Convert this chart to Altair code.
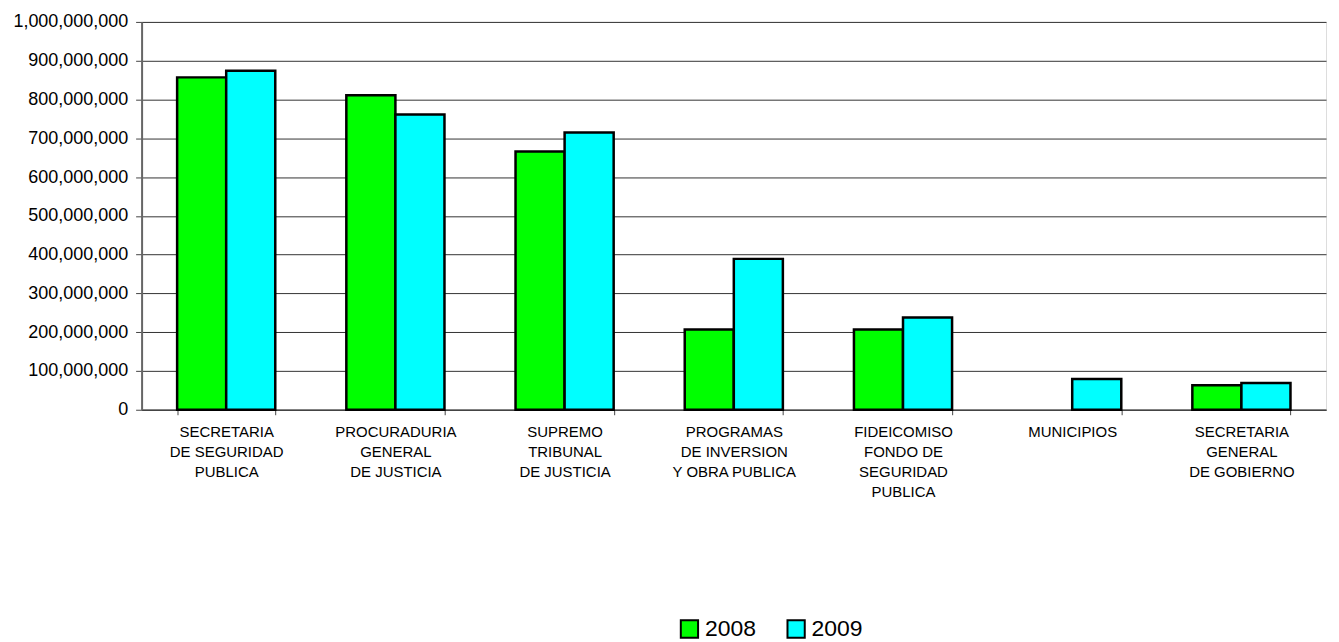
import altair as alt
import pandas as pd

categories = [
    "SECRETARIA|DE SEGURIDAD|PUBLICA",
    "PROCURADURIA|GENERAL|DE JUSTICIA",
    "SUPREMO|TRIBUNAL|DE JUSTICIA",
    "PROGRAMAS|DE INVERSION|Y OBRA PUBLICA",
    "FIDEICOMISO|FONDO DE|SEGURIDAD|PUBLICA",
    "MUNICIPIOS",
    "SECRETARIA|GENERAL|DE GOBIERNO",
]
years = ["2008", "2009"]
values_2008 = [857e6, 811e6, 666e6, 207e6, 207e6, 0, 63e6]
values_2009 = [874e6, 761e6, 715e6, 389e6, 238e6, 79e6, 69e6]

rows = []
for c, v8, v9 in zip(categories, values_2008, values_2009):
    rows.append({"cat": c, "year": "2008", "value": v8})
    rows.append({"cat": c, "year": "2009", "value": v9})
df = pd.DataFrame(rows)

chart = alt.Chart(df).transform_filter(
    "datum.value > 0"
).mark_bar(stroke="black", strokeWidth=2.5).encode(
    x=alt.X("cat:N", sort=categories, title=None,
            scale=alt.Scale(domain=categories, paddingInner=0.42, paddingOuter=0.21),
            axis=alt.Axis(labelAngle=0, labelExpr="split(datum.label, '|')",
                          labelFont="Liberation Sans", labelFontSize=15,
                          labelLineHeight=20, labelColor="black",
                          labelPadding=10, labelBaseline="top",
                          tickBand="extent", tickSize=5, tickColor="#444",
                          domainColor="#444", domainWidth=1.5, grid=False)),
    xOffset=alt.XOffset("year:N", scale=alt.Scale(domain=years, paddingInner=0, paddingOuter=0)),
    y=alt.Y("value:Q", title=None,
            scale=alt.Scale(domain=[0, 1e9], nice=False),
            axis=alt.Axis(format=",d", values=[i * 1e8 for i in range(11)],
                          labelFont="Liberation Sans", labelFontSize=18,
                          labelColor="black", labelPadding=8,
                          tickSize=6, tickColor="#444",
                          domainColor="#666", domainWidth=2,
                          grid=True, gridColor="#333", gridWidth=1)),
    color=alt.Color("year:N",
                    scale=alt.Scale(domain=years, range=["#00FF00", "#00FFFF"]),
                    legend=alt.Legend(title=None, orient="none", direction="horizontal",
                                      legendX=538, legendY=597, padding=0,
                                      symbolType="square", symbolSize=300,
                                      symbolStrokeColor="black", symbolStrokeWidth=2,
                                      labelFont="Liberation Sans", labelFontSize=23,
                                      labelColor="black", labelOffset=4,
                                      columnPadding=26)),
).properties(
    width=1188, height=389,
    autosize=alt.AutoSizeParams(type="none"),
    padding={"left": 134, "top": 13, "right": 5, "bottom": 230},
).configure_view(stroke=None).configure(background="white")

chart.save("out.html", embed_options={"renderer": "svg", "actions": False})
